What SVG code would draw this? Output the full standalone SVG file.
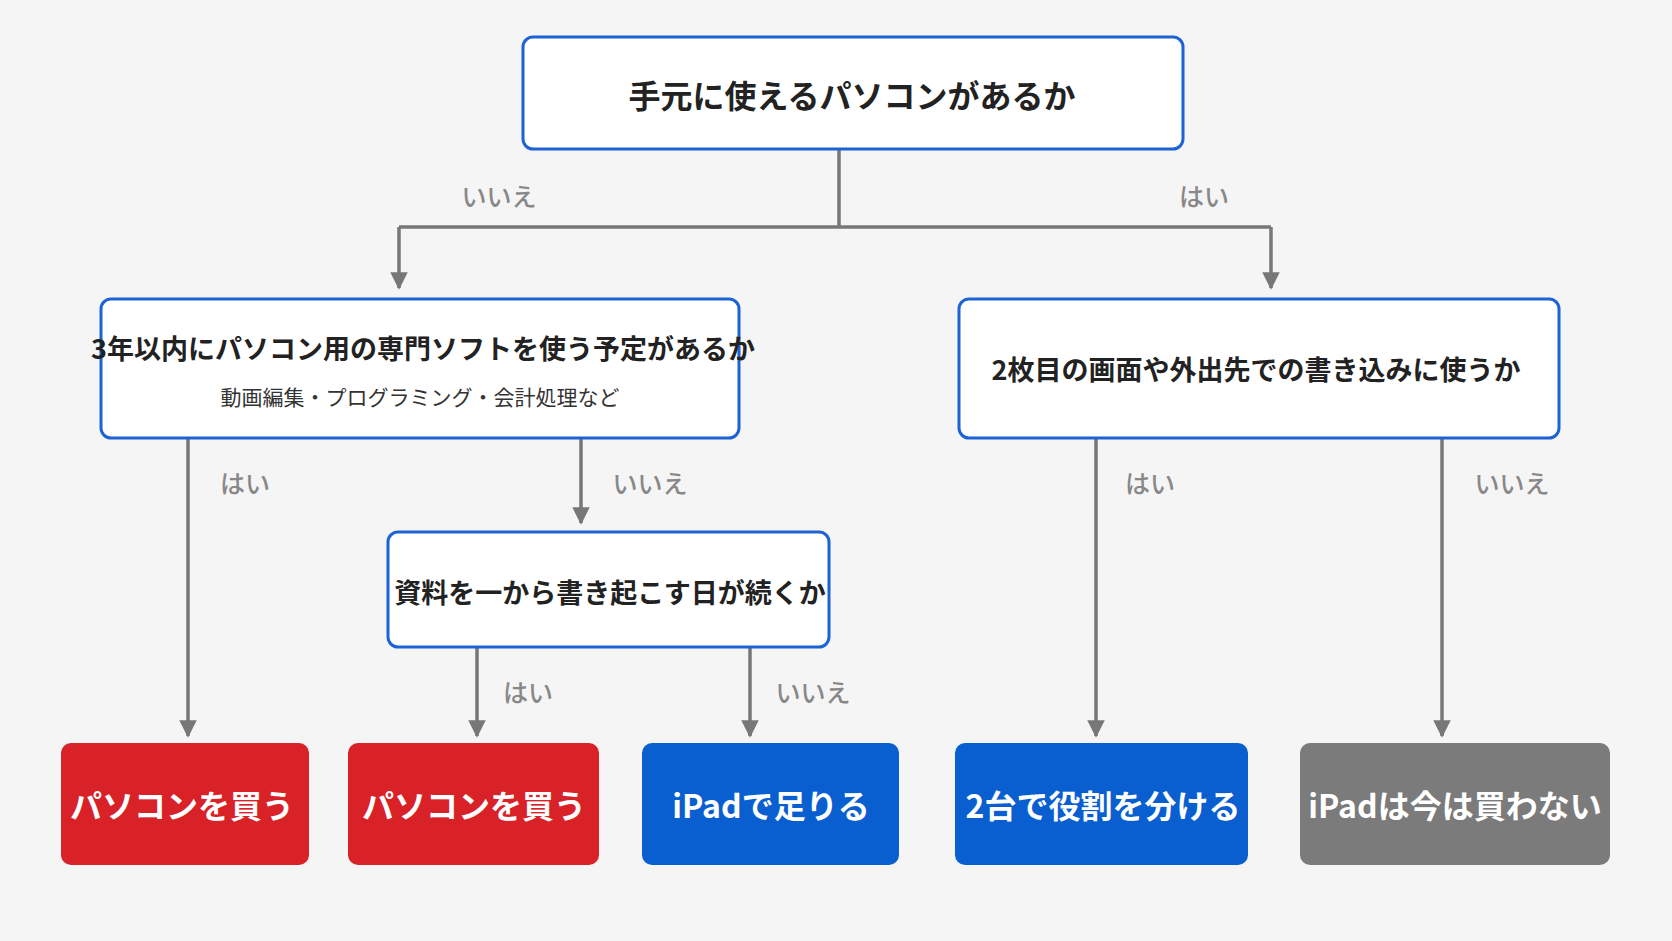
<svg xmlns="http://www.w3.org/2000/svg" width="1672" height="941" viewBox="0 0 1672 941">
<defs>
<marker id="ah" viewBox="0 0 10 10" refX="9" refY="5" markerWidth="5" markerHeight="5" orient="auto" markerUnits="strokeWidth"><path d="M0,0 L10,5 L0,10 z" fill="#777"/></marker>
<style>
text{font-family:"Noto Sans CJK JP","Noto Sans",sans-serif;text-anchor:middle;dominant-baseline:central}
.q{fill:#fff;stroke:#1e63d6;stroke-width:3}
.qt{font-size:27px;font-weight:700;fill:#222}
.st{font-size:21px;fill:#333}
.lb{font-size:25px;fill:#888;font-weight:500}
.c{stroke:#777;stroke-width:3.5;fill:none}
.r{fill:#d92128}.b{fill:#0a5fd0}.g{fill:#7b7b7b}
.at{font-size:32px;font-weight:700;fill:#fff}
</style>
</defs>
<rect width="1672" height="941" fill="#f5f5f5"/>
<g id="connectors">
<path class="c" d="M839,149 V227 M399,227 H1271"/>
<path class="c" d="M399,227 V288" marker-end="url(#ah)"/>
<path class="c" d="M1271,227 V288" marker-end="url(#ah)"/>
<path class="c" d="M188,438 V736" marker-end="url(#ah)"/>
<path class="c" d="M581,438 V523" marker-end="url(#ah)"/>
<path class="c" d="M477,647 V736" marker-end="url(#ah)"/>
<path class="c" d="M750,647 V736" marker-end="url(#ah)"/>
<path class="c" d="M1096,438 V736" marker-end="url(#ah)"/>
<path class="c" d="M1442,438 V736" marker-end="url(#ah)"/>
<text class="lb" x="499" y="195">いいえ</text>
<text class="lb" x="1204" y="195">はい</text>
<text class="lb" x="245" y="482">はい</text>
<text class="lb" x="650" y="482">いいえ</text>
<text class="lb" x="528" y="691">はい</text>
<text class="lb" x="813" y="691">いいえ</text>
<text class="lb" x="1150" y="482">はい</text>
<text class="lb" x="1512" y="482">いいえ</text>
</g>
<g id="q1"><rect class="q" x="523" y="37" width="660" height="112" rx="10"/><text class="qt" x="852" y="94" style="font-size:32px">手元に使えるパソコンがあるか</text></g>
<g id="q2"><rect class="q" x="101" y="299" width="638" height="139" rx="10"/><text class="qt" x="423" y="347">3年以内にパソコン用の専門ソフトを使う予定があるか</text><text class="st" x="420" y="396">動画編集・プログラミング・会計処理など</text></g>
<g id="q3"><rect class="q" x="959" y="299" width="600" height="139" rx="10"/><text class="qt" x="1256" y="368">2枚目の画面や外出先での書き込みに使うか</text></g>
<g id="q4"><rect class="q" x="388" y="532" width="441" height="115" rx="10"/><text class="qt" x="610" y="591">資料を一から書き起こす日が続くか</text></g>
<g id="a1"><rect class="r" x="61" y="743" width="248" height="122" rx="10"/><text class="at" x="182" y="804">パソコンを買う</text></g>
<g id="a2"><rect class="r" x="348" y="743" width="251" height="122" rx="10"/><text class="at" x="474" y="804">パソコンを買う</text></g>
<g id="a3"><rect class="b" x="642" y="743" width="257" height="122" rx="10"/><text class="at" x="771" y="804">iPadで足りる</text></g>
<g id="a4"><rect class="b" x="955" y="743" width="293" height="122" rx="10"/><text class="at" x="1103" y="804">2台で役割を分ける</text></g>
<g id="a5"><rect class="g" x="1300" y="743" width="310" height="122" rx="10"/><text class="at" x="1455" y="804">iPadは今は買わない</text></g>
</svg>
